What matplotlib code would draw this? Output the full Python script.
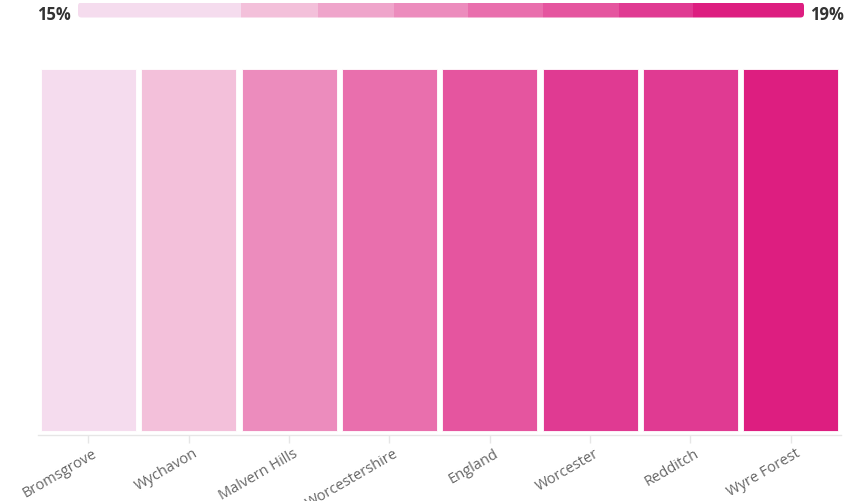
import matplotlib.pyplot as plt
from matplotlib.colors import ListedColormap, BoundaryNorm
from matplotlib.patches import FancyBboxPatch
from matplotlib.transforms import ScaledTranslation

# ------ Data ------
areas = ['Bromsgrove', 'Wychavon', 'Malvern Hills', 'Worcestershire',
         'England', 'Worcester', 'Redditch', 'Wyre Forest']
values = [15.2, 16.1, 16.9, 17.3, 17.8, 18.2, 18.3, 18.9]

# colour scale (bins shown in the legend bar)
bin_edges = [15.0, 15.9, 16.32, 16.74, 17.15, 17.56, 17.98, 18.39, 19.0]
bin_colors = ['#f5dcee', '#f3c0da', '#efa5cb', '#ec8cbd',
              '#e96fad', '#e5559f', '#e03a92', '#dd1e80']
legend_min, legend_max = '15%', '19%'

cmap = ListedColormap(bin_colors)
norm = BoundaryNorm(bin_edges, cmap.N)

plt.rcParams['font.family'] = ['Open Sans', 'DejaVu Sans']

W, H = 857, 502
fig = plt.figure(figsize=(W / 100, H / 100), dpi=100)

# ------ Main heat strip ------
ax = fig.add_axes([38.3 / W, 66 / H, 802.7 / W, 366 / H])
xs = range(len(areas))
ax.bar(xs, [1] * len(areas), width=0.946, bottom=0,
       color=[cmap(norm(v)) for v in values], edgecolor='#ffffff',
       linewidth=0.6)
ax.set_xlim(-0.5, len(areas) - 0.5)
ax.set_ylim(-0.011, 1)

for s in ['top', 'right', 'left']:
    ax.spines[s].set_visible(False)
ax.spines['bottom'].set_color('#e6e6e6')
ax.spines['bottom'].set_linewidth(1)
ax.set_yticks([])
ax.set_xticks(list(xs))
ax.set_xticklabels(areas, rotation=30, ha='right', va='top',
                   rotation_mode='anchor', fontsize=10.5, color='#666666')
ax.tick_params(axis='x', length=5.8, width=1, color='#e6e6e6', pad=1.5)
offset = ScaledTranslation(0.04, 0, fig.dpi_scale_trans)
for lbl in ax.get_xticklabels():
    lbl.set_transform(lbl.get_transform() + offset)

# ------ Legend bar ------
lax = fig.add_axes([78 / W, (H - 18.5) / H, 726 / W, 15 / H])
lax.set_xlim(bin_edges[0], bin_edges[-1])
lax.set_ylim(0, 1)
lax.axis('off')
clip = FancyBboxPatch((0.78, (H - 18.5) / 100), 7.26, 0.15,
                      boxstyle='round,pad=0,rounding_size=0.035',
                      transform=fig.dpi_scale_trans, facecolor='none',
                      edgecolor='none')
segs = lax.barh(0.5, [b - a for a, b in zip(bin_edges[:-1], bin_edges[1:])],
                left=bin_edges[:-1], height=1, color=bin_colors,
                linewidth=0)
for p in segs:
    p.set_clip_path(clip)

fig.text(53.5 / W, (H - 15.5) / H, legend_min, ha='center', va='center',
         fontsize=12, fontweight='bold', color='#333333')
fig.text(826.5 / W, (H - 15.5) / H, legend_max, ha='center', va='center',
         fontsize=12, fontweight='bold', color='#333333')

fig.savefig('out.png', dpi=100)
